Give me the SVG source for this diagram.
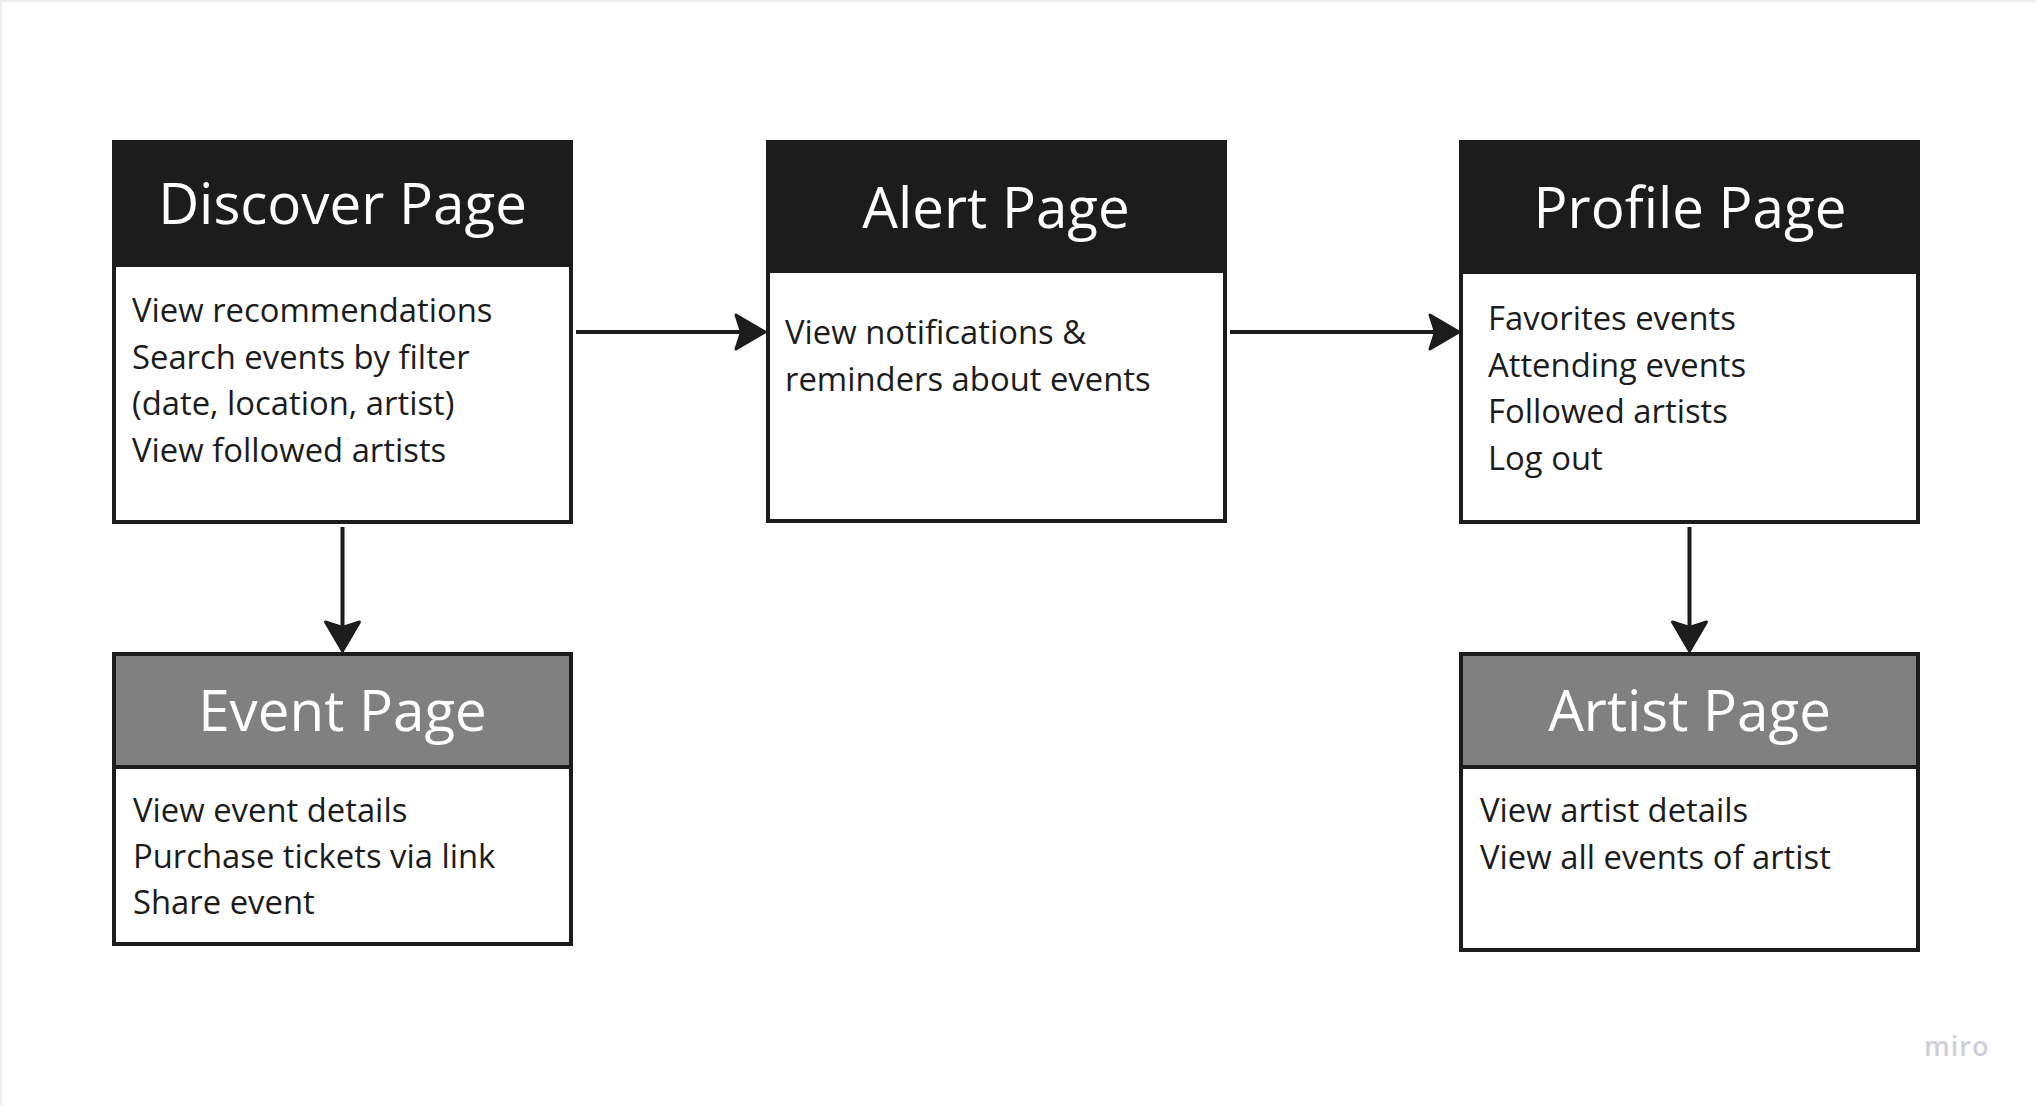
<svg xmlns="http://www.w3.org/2000/svg" width="2036" height="1105" viewBox="0 0 2036 1105">
  <style>
    .head-dark { fill: #1c1c1c; }
    .head-grey { fill: #808080; stroke: #1c1c1c; stroke-width: 4; }
    .body { fill: #ffffff; stroke: #1c1c1c; stroke-width: 4; }
    .title { font-family: "Open Sans", "Noto Sans", sans-serif; font-size: 56.5px; fill: #ffffff; text-anchor: middle; }
    .item { font-family: "Open Sans", "Noto Sans", sans-serif; font-size: 32.8px; fill: #1c1c1c; }
    .link { fill: none; stroke: #1c1c1c; stroke-width: 4; }
    .brand { font-family: "Open Sans", "Noto Sans", sans-serif; font-size: 27px; font-weight: 600; fill: #cfcfd8; letter-spacing: 1px; }
  </style>
  <defs>
    <marker id="head" viewBox="-32 -22 36 44" refX="-23" refY="0" markerWidth="36" markerHeight="44" markerUnits="userSpaceOnUse" orient="auto">
      <path d="M0,0 L-29,-17 L-23.5,0 L-29,17 Z" fill="#1c1c1c" stroke="#1c1c1c" stroke-width="3" stroke-linejoin="round"/>
    </marker>
  </defs>

  <!-- canvas -->
  <rect x="0" y="0" width="2036" height="1105" fill="#ffffff"/>
  <rect x="0" y="0" width="2036" height="2" fill="#eeeeee"/>
  <rect x="0" y="0" width="2" height="1105" fill="#eeeeee"/>

  <!-- connectors -->
  <g id="connectors">
    <line class="link" x1="576" y1="332" x2="742" y2="332" marker-end="url(#head)"/>
    <line class="link" x1="1230" y1="332" x2="1436" y2="332" marker-end="url(#head)"/>
    <line class="link" x1="342.5" y1="527" x2="342.5" y2="628" marker-end="url(#head)"/>
    <line class="link" x1="1689.5" y1="527" x2="1689.5" y2="628" marker-end="url(#head)"/>
  </g>

  <g id="discover-page">
    <rect class="head-dark" x="112" y="140" width="461" height="126"/>
    <rect class="body" x="114" y="265" width="457" height="257"/>
    <text class="title" x="342.5" y="224">Discover Page</text>
    <text class="item" x="132" y="322">View recommendations</text>
    <text class="item" x="132" y="368.5">Search events by filter</text>
    <text class="item" x="132" y="415">(date, location, artist)</text>
    <text class="item" x="132" y="461.5">View followed artists</text>
  </g>

  <g id="alert-page">
    <rect class="head-dark" x="766" y="140" width="461" height="132"/>
    <rect class="body" x="768" y="271" width="457" height="250"/>
    <text class="title" x="996" y="228">Alert Page</text>
    <text class="item" x="785" y="344">View notifications &amp;</text>
    <text class="item" x="785" y="391">reminders about events</text>
  </g>

  <g id="profile-page">
    <rect class="head-dark" x="1459" y="140" width="461" height="133"/>
    <rect class="body" x="1461" y="272" width="457" height="250"/>
    <text class="title" x="1690" y="228">Profile Page</text>
    <text class="item" x="1488" y="330">Favorites events</text>
    <text class="item" x="1488" y="376.5">Attending events</text>
    <text class="item" x="1488" y="423">Followed artists</text>
    <text class="item" x="1488" y="469.5">Log out</text>
  </g>

  <g id="event-page">
    <rect class="head-grey" x="114" y="654" width="457" height="113"/>
    <rect class="body" x="114" y="767" width="457" height="177"/>
    <text class="title" x="342.5" y="731">Event Page</text>
    <text class="item" x="133" y="822">View event details</text>
    <text class="item" x="133" y="868">Purchase tickets via link</text>
    <text class="item" x="133" y="914">Share event</text>
  </g>

  <g id="artist-page">
    <rect class="head-grey" x="1461" y="654" width="457" height="113"/>
    <rect class="body" x="1461" y="767" width="457" height="183"/>
    <text class="title" x="1689.5" y="731">Artist Page</text>
    <text class="item" x="1480" y="822">View artist details</text>
    <text class="item" x="1480" y="869">View all events of artist</text>
  </g>

  <text class="brand" x="1924" y="1056">miro</text>
</svg>
